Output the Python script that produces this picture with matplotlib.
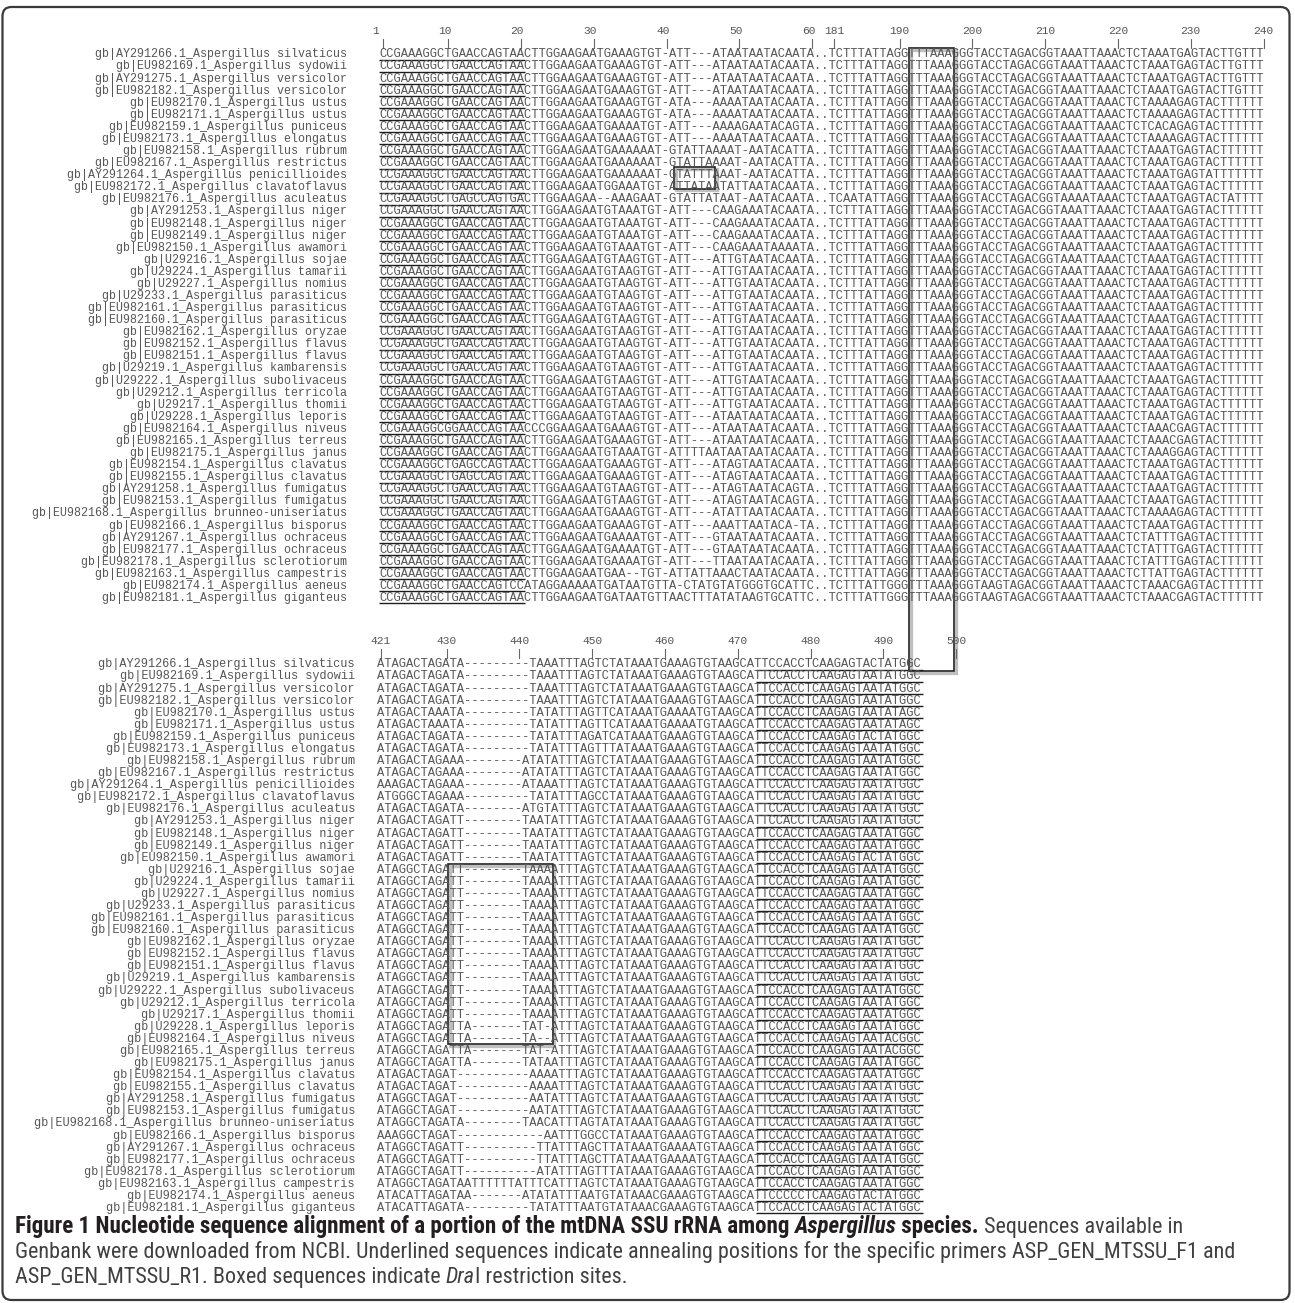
import matplotlib
matplotlib.use("Agg")
import matplotlib.pyplot as plt
from matplotlib.patches import Rectangle, FancyBboxPatch
from matplotlib.font_manager import FontProperties, findfont

# ---------------------------------------------------------------- data
labels = [
    "gb|AY291266.1_Aspergillus silvaticus",
    "gb|EU982169.1_Aspergillus sydowii",
    "gb|AY291275.1_Aspergillus versicolor",
    "gb|EU982182.1_Aspergillus versicolor",
    "gb|EU982170.1_Aspergillus ustus",
    "gb|EU982171.1_Aspergillus ustus",
    "gb|EU982159.1_Aspergillus puniceus",
    "gb|EU982173.1_Aspergillus elongatus",
    "gb|EU982158.1_Aspergillus rubrum",
    "gb|EU982167.1_Aspergillus restrictus",
    "gb|AY291264.1_Aspergillus penicillioides",
    "gb|EU982172.1_Aspergillus clavatoflavus",
    "gb|EU982176.1_Aspergillus aculeatus",
    "gb|AY291253.1_Aspergillus niger",
    "gb|EU982148.1_Aspergillus niger",
    "gb|EU982149.1_Aspergillus niger",
    "gb|EU982150.1_Aspergillus awamori",
    "gb|U29216.1_Aspergillus sojae",
    "gb|U29224.1_Aspergillus tamarii",
    "gb|U29227.1_Aspergillus nomius",
    "gb|U29233.1_Aspergillus parasiticus",
    "gb|EU982161.1_Aspergillus parasiticus",
    "gb|EU982160.1_Aspergillus parasiticus",
    "gb|EU982162.1_Aspergillus oryzae",
    "gb|EU982152.1_Aspergillus flavus",
    "gb|EU982151.1_Aspergillus flavus",
    "gb|U29219.1_Aspergillus kambarensis",
    "gb|U29222.1_Aspergillus subolivaceus",
    "gb|U29212.1_Aspergillus terricola",
    "gb|U29217.1_Aspergillus thomii",
    "gb|U29228.1_Aspergillus leporis",
    "gb|EU982164.1_Aspergillus niveus",
    "gb|EU982165.1_Aspergillus terreus",
    "gb|EU982175.1_Aspergillus janus",
    "gb|EU982154.1_Aspergillus clavatus",
    "gb|EU982155.1_Aspergillus clavatus",
    "gb|AY291258.1_Aspergillus fumigatus",
    "gb|EU982153.1_Aspergillus fumigatus",
    "gb|EU982168.1_Aspergillus brunneo-uniseriatus",
    "gb|EU982166.1_Aspergillus bisporus",
    "gb|AY291267.1_Aspergillus ochraceus",
    "gb|EU982177.1_Aspergillus ochraceus",
    "gb|EU982178.1_Aspergillus sclerotiorum",
    "gb|EU982163.1_Aspergillus campestris",
    "gb|EU982174.1_Aspergillus aeneus",
    "gb|EU982181.1_Aspergillus giganteus",
]

# alignment positions 1-60
seq_1_60 = [
    "CCGAAAGGCTGAACCAGTAACTTGGAAGAATGAAAGTGT-ATT---ATAATAATACAATA",
    "CCGAAAGGCTGAACCAGTAACTTGGAAGAATGAAAGTGT-ATT---ATAATAATACAATA",
    "CCGAAAGGCTGAACCAGTAACTTGGAAGAATGAAAGTGT-ATT---ATAATAATACAATA",
    "CCGAAAGGCTGAACCAGTAACTTGGAAGAATGAAAGTGT-ATT---ATAATAATACAATA",
    "CCGAAAGGCTGAACCAGTAACTTGGAAGAATGAAAGTGT-ATA---AAAATAATACAATA",
    "CCGAAAGGCTGAACCAGTAACTTGGAAGAATGAAAGTGT-ATA---AAAATAATACAATA",
    "CCGAAAGGCTGAACCAGTAACTTGGAAGAATGAAAATGT-ATT---AAAAGAATACAGTA",
    "CCGAAAGGCTGAACCAGTAACTTGGAAGAATGAAAGTGT-ATT---AAAATAATACAATA",
    "CCGAAAGGCTGAACCAGTAACTTGGAAGAATGAAAAAAT-GTATTAAAAT-AATACATTA",
    "CCGAAAGGCTGAACCAGTAACTTGGAAGAATGAAAAAAT-GTATTAAAAT-AATACATTA",
    "CCGAAAGGCTGAACCAGTAACTTGGAAGAATGAAAAAAT-GTATTTAAAT-AATACATTA",
    "CCGAAAGGCTGAACCAGTAACTTGGAAGAATGGAAATGT-ATTATAATATTAATACAATA",
    "CCGAAAGGCTGAGCCAGTGACTTGGAAGAA--AAAGAAT-GTATTATAAT-AATACAATA",
    "CCGAAAGGCTGAACCAGTAACTTGGAAGAATGTAAATGT-ATT---CAAGAAATACAATA",
    "CCGAAAGGCTGAACCAGTAACTTGGAAGAATGTAAATGT-ATT---CAAGAAATACAATA",
    "CCGAAAGGCTGAACCAGTAACTTGGAAGAATGTAAATGT-ATT---CAAGAAATACAATA",
    "CCGAAAGGCTGAACCAGTAACTTGGAAGAATGTAAATGT-ATT---CAAGAAATAAAATA",
    "CCGAAAGGCTGAACCAGTAACTTGGAAGAATGTAAGTGT-ATT---ATTGTAATACAATA",
    "CCGAAAGGCTGAACCAGTAACTTGGAAGAATGTAAGTGT-ATT---ATTGTAATACAATA",
    "CCGAAAGGCTGAACCAGTAACTTGGAAGAATGTAAGTGT-ATT---ATTGTAATACAATA",
    "CCGAAAGGCTGAACCAGTAACTTGGAAGAATGTAAGTGT-ATT---ATTGTAATACAATA",
    "CCGAAAGGCTGAACCAGTAACTTGGAAGAATGTAAGTGT-ATT---ATTGTAATACAATA",
    "CCGAAAGGCTGAACCAGTAACTTGGAAGAATGTAAGTGT-ATT---ATTGTAATACAATA",
    "CCGAAAGGCTGAACCAGTAACTTGGAAGAATGTAAGTGT-ATT---ATTGTAATACAATA",
    "CCGAAAGGCTGAACCAGTAACTTGGAAGAATGTAAGTGT-ATT---ATTGTAATACAATA",
    "CCGAAAGGCTGAACCAGTAACTTGGAAGAATGTAAGTGT-ATT---ATTGTAATACAATA",
    "CCGAAAGGCTGAACCAGTAACTTGGAAGAATGTAAGTGT-ATT---ATTGTAATACAATA",
    "CCGAAAGGCTGAACCAGTAACTTGGAAGAATGTAAGTGT-ATT---ATTGTAATACAATA",
    "CCGAAAGGCTGAACCAGTAACTTGGAAGAATGTAAGTGT-ATT---ATTGTAATACAATA",
    "CCGAAAGGCTGAACCAGTAACTTGGAAGAATGTAAGTGT-ATT---ATTGTAATACAATA",
    "CCGAAAGGCTGAACCAGTAACTTGGAAGAATGTAAGTGT-ATT---ATAATAATACAATA",
    "CCGAAAGGCGGAACCAGTAACCCGGAAGAATGAAAGTGT-ATT---ATAATAATACAATA",
    "CCGAAAGGCTGAACCAGTAACTTGGAAGAATGAAAGTGT-ATT---ATAATAATACAATA",
    "CCGAAAGGCTGAACCAGTAACTTGGAAGAATGTAAATGT-ATTTTAATAATAATACAATA",
    "CCGAAAGGCTGAGCCAGTAACTTGGAAGAATGAAAGTGT-ATT---ATAGTAATACAATA",
    "CCGAAAGGCTGAGCCAGTAACTTGGAAGAATGAAAGTGT-ATT---ATAGTAATACAATA",
    "CCGAAAGGCTGAACCAGTAACTTGGAAGAATGTAAGTGT-ATT---ATAGTAATACAGTA",
    "CCGAAAGGCTGAACCAGTAACTTGGAAGAATGTAAGTGT-ATT---ATAGTAATACAGTA",
    "CCGAAAGGCTGAACCAGTAACTTGGAAGAATGAAAGTGT-ATT---ATATTAATACAATA",
    "CCGAAAGGCTGAACCAGTAACTTGGAAGAATGAAAGTGT-ATT---AAATTAATACA-TA",
    "CCGAAAGGCTGAACCAGTAACTTGGAAGAATGAAAATGT-ATT---GTAATAATACAATA",
    "CCGAAAGGCTGAACCAGTAACTTGGAAGAATGAAAATGT-ATT---GTAATAATACAATA",
    "CCGAAAGGCTGAACCAGTAACTTGGAAGAATGAAAATGT-ATT---TTAATAATACAATA",
    "CCGAAAGGCTGAACCAGTAACTTGGAAGAATGAA--TGT-ATTATTAAACTAATACAATA",
    "CCGAAAGGCTGAACCAGTCCATAGGAAAAATGATAATGTTA-CTATGTATGGGTGCATTC",
    "CCGAAAGGCTGAACCAGTAACTTGGAAGAATGATAATGTTAACTTTATATAAGTGCATTC",
]

# alignment positions 181-240
seq_181_240 = [
    "TCTTTATTAGGTTTAAAGGGTACCTAGACGGTAAATTAAACTCTAAATGAGTACTTGTTT",
    "TCTTTATTAGGTTTAAAGGGTACCTAGACGGTAAATTAAACTCTAAATGAGTACTTGTTT",
    "TCTTTATTAGGTTTAAAGGGTACCTAGACGGTAAATTAAACTCTAAATGAGTACTTGTTT",
    "TCTTTATTAGGTTTAAAGGGTACCTAGACGGTAAATTAAACTCTAAATGAGTACTTGTTT",
    "TCTTTATTAGGTTTAAAGGGTACCTAGACGGTAAATTAAACTCTAAAAGAGTACTTTTTT",
    "TCTTTATTAGGTTTAAAGGGTACCTAGACGGTAAATTAAACTCTAAAAGAGTACTTTTTT",
    "TCTTTATTAGGTTTAAAGGGTACCTAGACGGTAAATTAAACTCTCACAGAGTACTTTTTT",
    "TCTTTATTAGGTTTAAAGGGTACCTAGACGGTAAATTAAACTCTAAAAGAGTACTTTTTT",
    "TCTTTATTAGGTTTAAAGGGTACCTAGACGGTAAATTAAACTCTAAATGAGTACTTTTTT",
    "TCTTTATTAGGTTTAAAGGGTACCTAGACGGTAAATTAAACTCTAAATGAGTACTTTTTT",
    "TCTTTATTAGGTTTAAAGGGTACCTAGACGGTAAATTAAACTCTAAATGAGTATTTTTTT",
    "TCTTTATTAGGTTTAAAGGGTACCTAGACGGTAAATTAAACTCTAAATGAGTACTTTTTT",
    "TCAATATTAGGTTTAAAGGGTACCTAGACGGTAAAATAAACTCTAAATGAGTACTATTTT",
    "TCTTTATTAGGTTTAAAGGGTACCTAGACGGTAAATTAAACTCTAAATGAGTACTTTTTT",
    "TCTTTATTAGGTTTAAAGGGTACCTAGACGGTAAATTAAACTCTAAATGAGTACTTTTTT",
    "TCTTTATTAGGTTTAAAGGGTACCTAGACGGTAAATTAAACTCTAAATGAGTACTTTTTT",
    "TCTTTATTAGGTTTAAAGGGTACCTAGACGGTAAATTAAACTCTAAATGAGTACTTTTTT",
    "TCTTTATTAGGTTTAAAGGGTACCTAGACGGTAAATTAAACTCTAAATGAGTACTTTTTT",
    "TCTTTATTAGGTTTAAAGGGTACCTAGACGGTAAATTAAACTCTAAATGAGTACTTTTTT",
    "TCTTTATTAGGTTTAAAGGGTACCTAGACGGTAAATTAAACTCTAAATGAGTACTTTTTT",
    "TCTTTATTAGGTTTAAAGGGTACCTAGACGGTAAATTAAACTCTAAATGAGTACTTTTTT",
    "TCTTTATTAGGTTTAAAGGGTACCTAGACGGTAAATTAAACTCTAAATGAGTACTTTTTT",
    "TCTTTATTAGGTTTAAAGGGTACCTAGACGGTAAATTAAACTCTAAATGAGTACTTTTTT",
    "TCTTTATTAGGTTTAAAGGGTACCTAGACGGTAAATTAAACTCTAAATGAGTACTTTTTT",
    "TCTTTATTAGGTTTAAAGGGTACCTAGACGGTAAATTAAACTCTAAATGAGTACTTTTTT",
    "TCTTTATTAGGTTTAAAGGGTACCTAGACGGTAAATTAAACTCTAAATGAGTACTTTTTT",
    "TCTTTATTAGGTTTAAAGGGTACCTAGACGGTAAATTAAACTCTAAATGAGTACTTTTTT",
    "TCTTTATTAGGTTTAAAGGGTACCTAGACGGTAAATTAAACTCTAAATGAGTACTTTTTT",
    "TCTTTATTAGGTTTAAAGGGTACCTAGACGGTAAATTAAACTCTAAATGAGTACTTTTTT",
    "TCTTTATTAGGTTTAAAGGGTACCTAGACGGTAAATTAAACTCTAAATGAGTACTTTTTT",
    "TCTTTATTAGGTTTAAAGGGTACCTAGACGGTAAATTAAACTCTAAATGAGTACTTTTTT",
    "TCTTTATTAGGTTTAAAGGGTACCTAGACGGTAAATTAAACTCTAAACGAGTACTTTTTT",
    "TCTTTATTAGGTTTAAAGGGTACCTAGACGGTAAATTAAACTCTAAACGAGTACTTTTTT",
    "TCTTTATTAGGTTTAAAGGGTACCTAGACGGTAAATTAAACTCTAAAGGAGTACTTTTTT",
    "TCTTTATTAGGTTTAAAGGGTACCTAGACGGTAAATTAAACTCTAAATGAGTACTTTTTT",
    "TCTTTATTAGGTTTAAAGGGTACCTAGACGGTAAATTAAACTCTAAATGAGTACTTTTTT",
    "TCTTTATTAGGTTTAAAGGGTACCTAGACGGTAAATTAAACTCTAAATGAGTACTTTTTT",
    "TCTTTATTAGGTTTAAAGGGTACCTAGACGGTAAATTAAACTCTAAATGAGTACTTTTTT",
    "TCTTTATTAGGTTTAAAGGGTACCTAGACGGTAAATTAAACTCTAAAAGAGTACTTTTTT",
    "TCTTTATTAGGTTTAAAGGGTACCTAGACGGTAAATTAAACTCTAAATGAGTACTTTTTT",
    "TCTTTATTAGGTTTAAAGGGTACCTAGACGGTAAATTAAACTCTATTTGAGTACTTTTTT",
    "TCTTTATTAGGTTTAAAGGGTACCTAGACGGTAAATTAAACTCTATTTGAGTACTTTTTT",
    "TCTTTATTAGGTTTAAAGGGTACCTAGACGGTAAATTAAACTCTATTTGAGTACTTTTTT",
    "TCTTTATTAGGTTTAAAGGGTACCTAGACGGTAAATTAAACTCTTATTGAGTACTTTTTT",
    "TCTTTATTGGGTTTAAAGGGTAAGTAGACGGTAAATTAAACTCTAAACGAGTACTTTTTT",
    "TCTTTATTGGGTTTAAAGGGTAAGTAGACGGTAAATTAAACTCTAAACGAGTACTTTTTT",
]

# alignment positions 421-495
seq_421_495 = [
    "ATAGACTAGATA---------TAAATTTAGTCTATAAATGAAAGTGTAAGCATTCCACCTCAAGAGTACTATGGC",
    "ATAGACTAGATA---------TAAATTTAGTCTATAAATGAAAGTGTAAGCATTCCACCTCAAGAGTAATATGGC",
    "ATAGACTAGATA---------TAAATTTAGTCTATAAATGAAAGTGTAAGCATTCCACCTCAAGAGTAATATGGC",
    "ATAGACTAGATA---------TAAATTTAGTCTATAAATGAAAGTGTAAGCATTCCACCTCAAGAGTAATATGGC",
    "ATAGACTAAATA---------TATATTTAGTTCATAAATGAAAATGTAAGCATTCCACCTCAAGAGTAATATAGC",
    "ATAGACTAAATA---------TATATTTAGTTCATAAATGAAAATGTAAGCATTCCACCTCAAGAGTAATATAGC",
    "ATAGACTAGATA---------TATATTTAGATCATAAATGAAAGTGTAAGCATTCCACCTCAAGAGTACTATGGC",
    "ATAGACTAGATA---------TATATTTAGTTTATAAATGAAAGTGTAAGCATTCCACCTCAAGAGTAATATGGC",
    "ATAGACTAGAAA--------ATATATTTAGTCTATAAATGAAAGTGTAAGCATTCCACCTCAAGAGTAATATGGC",
    "ATAGACTAGAAA--------ATATATTTAGTCTATAAATGAAAGTGTAAGCATTCCACCTCAAGAGTAATATGGC",
    "AAAGACTAGAAA--------ATAAATTTAGTCTATAAATGAAAGTGTAAGCATTCCACCTCAAGAGTAATATGGC",
    "ATGGGCTAGAAA---------TATATTTAGCCTATAAATGAAAGTGTAAGCATTCCACCTCAAGAGTAATATGGC",
    "ATAGACTAGATA--------ATGTATTTAGTCTATAAATGAAAGTGTAAGCATTCCACCTCAAGAGTAATATGGC",
    "ATAGACTAGATT--------TAATATTTAGTCTATAAATGAAAGTGTAAGCATTCCACCTCAAGAGTAATATGGC",
    "ATAGACTAGATT--------TAATATTTAGTCTATAAATGAAAGTGTAAGCATTCCACCTCAAGAGTAATATGGC",
    "ATAGACTAGATT--------TAATATTTAGTCTATAAATGAAAGTGTAAGCATTCCACCTCAAGAGTAATATGGC",
    "ATAGACTAGATT--------TAATATTTAGTCTATAAATGAAAGTGTAAGCATTCCACCTCAAGAGTACTATGGC",
    "ATAGGCTAGATT--------TAAAATTTAGTCTATAAATGAAAGTGTAAGCATTCCACCTCAAGAGTAATATGGC",
    "ATAGGCTAGATT--------TAAAATTTAGTCTATAAATGAAAGTGTAAGCATTCCACCTCAAGAGTAATATGGC",
    "ATAGGCTAGATT--------TAAAATTTAGTCTATAAATGAAAGTGTAAGCATTCCACCTCAAGAGTAATATGGC",
    "ATAGGCTAGATT--------TAAAATTTAGTCTATAAATGAAAGTGTAAGCATTCCACCTCAAGAGTAATATGGC",
    "ATAGGCTAGATT--------TAAAATTTAGTCTATAAATGAAAGTGTAAGCATTCCACCTCAAGAGTAATATGGC",
    "ATAGGCTAGATT--------TAAAATTTAGTCTATAAATGAAAGTGTAAGCATTCCACCTCAAGAGTAATATGGC",
    "ATAGGCTAGATT--------TAAAATTTAGTCTATAAATGAAAGTGTAAGCATTCCACCTCAAGAGTAATATGGC",
    "ATAGGCTAGATT--------TAAAATTTAGTCTATAAATGAAAGTGTAAGCATTCCACCTCAAGAGTAATATGGC",
    "ATAGGCTAGATT--------TAAAATTTAGTCTATAAATGAAAGTGTAAGCATTCCACCTCAAGAGTAATATGGC",
    "ATAGGCTAGATT--------TAAAATTTAGTCTATAAATGAAAGTGTAAGCATTCCACCTCAAGAGTAATATGGC",
    "ATAGGCTAGATT--------TAAAATTTAGTCTATAAATGAAAGTGTAAGCATTCCACCTCAAGAGTAATATGGC",
    "ATAGGCTAGATT--------TAAAATTTAGTCTATAAATGAAAGTGTAAGCATTCCACCTCAAGAGTAATATGGC",
    "ATAGGCTAGATT--------TAAAATTTAGTCTATAAATGAAAGTGTAAGCATTCCACCTCAAGAGTAATATGGC",
    "ATAGGCTAGATTA-------TAT-ATTTAGTCTATAAATGAAAGTGTAAGCATTCCACCTCAAGAGTAATATGGC",
    "ATAGGCTAGATTA-------TA--ATTTAGTCTATAAATGAAAGTGTAAGCATTCCACCTCAAGAGTAATACGGC",
    "ATAGGCTAGATTA-------TAT-ATTTAGTCTATAAATGAAAGTGTAAGCATTCCACCTCAAGAGTAATACGGC",
    "ATAGGCTAGATTA-------TATAATTTAGTCTATAAATGAAAGTGTAAGCATTCCACCTCAAGAGTAATATGGC",
    "ATAGACTAGAT----------AAAATTTAGTCTATAAATGAAAGTGTAAGCATTCCACCTCAAGAGTAATATGGC",
    "ATAGACTAGAT----------AAAATTTAGTCTATAAATGAAAGTGTAAGCATTCCACCTCAAGAGTAATATGGC",
    "ATAGGCTAGAT----------AATATTTAGTCTATAAATGAAAGTGTAAGCATTCCACCTCAAGAGTAATATGGC",
    "ATAGGCTAGAT----------AATATTTAGTCTATAAATGAAAGTGTAAGCATTCCACCTCAAGAGTAATATGGC",
    "ATAGGCTAGATA--------TAACATTTAGTATATAAATGAAAGTGTAAGCATTCCACCTCAAGAGTAATATGGC",
    "AAAGGCTAGAT------------AATTTGGCCTATAAATGAAAGTGTAAGCATTCCACCTCAAGAGTAATATGGC",
    "ATAGGCTAGATT----------TTATTTAGCTTATAAATGAAAATGTAAGCATTCCACCTCAAGAGTAATATGGC",
    "ATAGGCTAGATT----------TTATTTAGCTTATAAATGAAAATGTAAGCATTCCACCTCAAGAGTAATATGGC",
    "ATAGGCTAGATT----------ATATTTAGTTTATAAATGAAAGTGTAAGCATTCCACCTCAAGAGTAATATGGC",
    "ATAGGCTAGATAATTTTTTATTTCATTTAGTCTATAAATGAAAGTGTAAGCATTCCACCTCAAGAGTAATATGGC",
    "ATACATTAGATAA-------ATATATTTAATGTATAAACGAAAGTGTAAGCATTCCCCCTCAAGAGTACTATGGC",
    "ATACATTAGATA---------TATATTTAATGTATAAACGAAAGTGTAAGCATTCCACCTCAAGAGTACTATGGC",
]

top_ticks = [1, 10, 20, 30, 40, 50, 60, 181, 190, 200, 210, 220, 230, 240]
bottom_ticks = [421, 430, 440, 450, 460, 470, 480, 490, 500]

caption_lines = [
    [("Figure 1 Nucleotide sequence alignment of a portion of the mtDNA SSU rRNA among ", "bold", "normal"),
     ("Aspergillus", "bold", "italic"),
     (" species.", "bold", "normal"),
     (" Sequences available in", "normal", "normal")],
    [("Genbank were downloaded from NCBI. Underlined sequences indicate annealing positions for the specific primers ASP_GEN_MTSSU_F1 and", "normal", "normal")],
    [("ASP_GEN_MTSSU_R1. Boxed sequences indicate ", "normal", "normal"),
     ("Dra", "normal", "italic"),
     ("I restriction sites.", "normal", "normal")],
]

for s in seq_1_60 + seq_181_240:
    assert len(s) == 60, s
for s in seq_421_495:
    assert len(s) == 75, s

# ---------------------------------------------------------------- canvas
W, H = 1295, 1303
fig = plt.figure(figsize=(W / 100, H / 100), dpi=100)
ax = fig.add_axes([0, 0, 1, 1])
ax.set_xlim(0, W)
ax.set_ylim(H, 0)
ax.axis("off")
renderer = fig.canvas.get_renderer()


def have(fam, **kw):
    try:
        findfont(FontProperties(family=fam, **kw), fallback_to_default=False)
        return True
    except Exception:
        return False


MONO = "Liberation Mono" if have("Liberation Mono") else "DejaVu Sans Mono"


def caption_family():
    for fam in ["Roboto Condensed", "Open Sans Condensed", "Liberation Sans Narrow",
                "Nimbus Sans Narrow", "Arial Narrow", "DejaVu Sans Condensed",
                "Noto Sans Condensed"]:
        if have(fam):
            return dict(family=fam)
    try:
        f = findfont(FontProperties(family="DejaVu Sans", stretch="condensed"),
                     fallback_to_default=False)
        if "ondensed" in f:
            return dict(family="DejaVu Sans", stretch="condensed")
    except Exception:
        pass
    return dict(family="Open Sans")


CAPF = caption_family()


def width(s, fp):
    w1 = renderer.get_text_width_height_descent(s + "|", fp, ismath=False)[0]
    w2 = renderer.get_text_width_height_descent("|", fp, ismath=False)[0]
    return w1 - w2


def mono_size(pitch):
    w = width("A" * 100, FontProperties(family=MONO, size=10))
    return 10 * pitch * 100 / w


PITCH = 7.28
ROW = 12.08
SEQ_FS = mono_size(PITCH)
NUM_FS = mono_size(6.8)
GREY = "#565656"
INK = "#1e1e1e"

top = dict(x0=382.7, y0=54.0, label_right=347.0, label_fs=mono_size(7.0),
           seqs=[a + ".." + b for a, b in zip(seq_1_60, seq_181_240)],
           ticks=[(t, t - 1 if t <= 60 else t - 181 + 62) for t in top_ticks],
           underline=(0, 19))
bot = dict(x0=381.0, y0=664.0, label_right=355.0, label_fs=mono_size(7.2),
           seqs=seq_421_495,
           ticks=[(t, t - 421) for t in bottom_ticks],
           underline=(52, 74))


def cx(b, i):
    return b["x0"] + i * PITCH


def cy(b, r):
    return b["y0"] + r * ROW


for b in (top, bot):
    # header numbers and ticks
    for num, idx in b["ticks"]:
        n = len(str(num))
        off = {1: -1.0, 2: -0.5, 3: 0.0}[n] if b is top else 0.0
        ax.text(cx(b, idx) + off * PITCH, b["y0"] - 19.7, str(num), family=MONO, size=NUM_FS,
                color=GREY, ha="center", va="baseline")
        ax.plot([cx(b, idx)] * 2, [b["y0"] - 14.7, b["y0"] - 6.0], color="#666666", lw=0.8)
    # rows
    for r, (lab, s) in enumerate(zip(labels, b["seqs"])):
        yb = cy(b, r) + 3.4
        ax.text(b["label_right"], yb, lab, family=MONO, size=b["label_fs"], color=GREY,
                ha="right", va="baseline")
        ax.text(cx(b, 0) - PITCH / 2, yb, s, family=MONO, size=SEQ_FS, color=GREY,
                ha="left", va="baseline")
        u0, u1 = b["underline"]
        ax.plot([cx(b, u0) - PITCH / 2, cx(b, u1) + PITCH / 2], [yb + 2.4] * 2,
                color=INK, lw=1.0, solid_capstyle="butt")


def box(x0, y0, x1, y1):
    ax.add_patch(Rectangle((x0 + 1.6, y0 + 1.6), x1 - x0, y1 - y0, fill=False,
                           ec="#b0b0b0", lw=2.4, alpha=0.8))
    ax.add_patch(Rectangle((x0, y0), x1 - x0, y1 - y0, fill=False, ec="#222222", lw=1.2))


# DraI site boxes
box(cx(top, 40.05), cy(top, 9.35), cx(top, 45.7), cy(top, 11.15))
box(cx(top, 72.3), top["y0"] - 6.0, cx(top, 78.5), cy(bot, 0.6))
box(cx(bot, 9.25), cy(bot, 16.55), cx(bot, 23.6), cy(bot, 31.45))

# ---------------------------------------------------------------- caption
line2 = caption_lines[1][0][0]
w10 = width(line2, FontProperties(size=10, **CAPF))
cap_size = 10 * 1215 / w10
# the bold title of the reference font runs wider than its regular text
bold_runs = [r for r in caption_lines[0] if r[1] == "bold"]
w_bold = sum(width(t, FontProperties(size=cap_size, weight=wt, style=st, **CAPF))
             for t, wt, st in bold_runs)
bold_size = cap_size * min(1.08, 968.0 / w_bold)
cap_base = [1233, 1258, 1283]
for runs, yb in zip(caption_lines, cap_base):
    x = 15.0
    for txt, wt, st in runs:
        size = bold_size if wt == "bold" else cap_size
        fp = FontProperties(size=size, weight=wt, style=st, **CAPF)
        ax.text(x, yb, txt, fontproperties=fp, color="#231f20" if wt == "bold" else "#404040",
                ha="left", va="baseline")
        x += width(txt, fp)

# outer frame
ax.add_patch(FancyBboxPatch((2.5, 7), 1287, 1293, boxstyle="round,pad=0,rounding_size=9",
                            fill=False, ec="#3a3a3a", lw=1.6))

fig.savefig("out.png", dpi=100)
